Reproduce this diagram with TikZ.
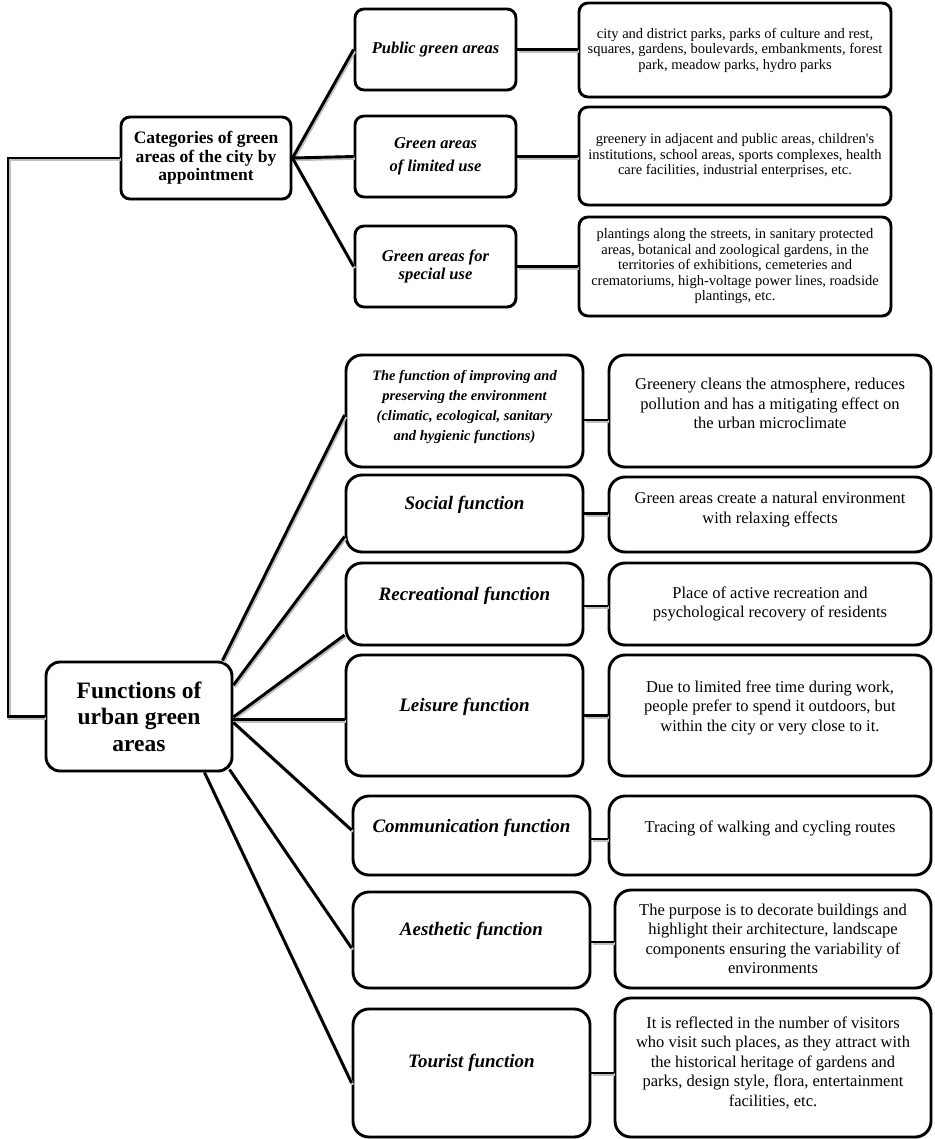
\documentclass[tikz,border=0pt]{standalone}
\usepackage{fontspec}
\setmainfont{Liberation Serif}
\usetikzlibrary{shadows}
\begin{document}
\begin{tikzpicture}[x=1pt,y=-1pt,
  bx/.style={draw, line width=2.9pt, rounded corners=9pt, fill=white, inner sep=0pt,
    drop shadow={shadow xshift=1.2pt, shadow yshift=-1.6pt, fill=black!30}},
  bbx/.style={bx, rounded corners=16pt},
  ln/.style={line width=2.9pt,
    preaction={draw=black!25, line width=2.9pt, transform canvas={shift={(1.2pt,-1.8pt)}}}},
  tcat/.style={font=\fontsize{17.5}{18.5}\selectfont\bfseries, align=center, inner sep=0pt},
  tfunc/.style={font=\fontsize{23.5}{26.5}\selectfont\bfseries, align=center, inner sep=0pt},
  tsub/.style={font=\fontsize{16.5}{19}\selectfont\bfseries\itshape, align=center, inner sep=0pt},
  tsm/.style={font=\fontsize{14.5}{15.5}\selectfont, align=center, inner sep=0pt},
  timpr/.style={font=\fontsize{14.5}{20}\selectfont\bfseries\itshape, align=center, inner sep=0pt},
  tlab/.style={font=\fontsize{19}{22}\selectfont\bfseries\itshape, align=center, inner sep=0pt},
  tdesc/.style={font=\fontsize{16.5}{19.5}\selectfont, align=center, inner sep=0pt}]
\useasboundingbox (0,0) rectangle (934,1139);

% connectors are drawn after the boxes; shadows of lines go under boxes
% top section
\node[bx, minimum width=170pt, minimum height=82pt, tcat] (cat) at (206,158) {Categories of green\\areas of the city by\\appointment};
\node[bx, minimum width=161pt, minimum height=81pt, tsub] (pub) at (435.5,49.5) {Public green areas};
\node[bx, minimum width=161pt, minimum height=81pt, tsub, font=\fontsize{16.5}{23}\selectfont\bfseries\itshape] (lim) at (435.5,156.5) {Green areas\\of limited use};
\node[bx, minimum width=161pt, minimum height=81pt, tsub, font=\fontsize{16.5}{18}\selectfont\bfseries\itshape] (spe) at (435.5,266.5) {Green areas for\\special use};
\node[bx, minimum width=312pt, minimum height=94pt, tsm] (r1) at (735,50) {city and district parks, parks of culture and rest,\\squares, gardens, boulevards, embankments, forest\\park, meadow parks, hydro parks};
\node[bx, minimum width=312pt, minimum height=98pt, tsm] (r2) at (735,156) {greenery in adjacent and public areas, children\textquotesingle s\\institutions, school areas, sports complexes, health\\care facilities, industrial enterprises, etc.};
\node[bx, minimum width=312pt, minimum height=99pt, tsm] (r3) at (735,266.5) {plantings along the streets, in sanitary protected\\areas, botanical and zoological gardens, in the\\territories of exhibitions, cemeteries and\\crematoriums, high-voltage power lines, roadside\\plantings, etc.};

% bottom section
\node[bbx, rounded corners=14pt, minimum width=186pt, minimum height=109pt, tfunc] (func) at (139,716.5) {Functions of\\urban green\\areas};

\node[bbx, minimum width=237pt, minimum height=112pt] (impr) at (464.5,411) {};
\node[timpr] (imprT) at ([yshift=4pt]impr.center) {The function of improving and\\preserving the environment\\(climatic, ecological, sanitary\\and hygienic functions)};
\node[bbx, minimum width=322pt, minimum height=112pt] (imprR) at (770,411) {};
\node[tdesc] (imprRT) at ([yshift=7.5pt]imprR.center) {Greenery cleans the atmosphere, reduces\\pollution and has a mitigating effect on\\the urban microclimate};

\node[bbx, minimum width=237pt, minimum height=77pt] (soc) at (464.5,513.5) {};
\node[tlab] (socT) at ([yshift=8.5pt]soc.center) {Social function};
\node[bbx, minimum width=322pt, minimum height=75pt] (socR) at (770,514.5) {};
\node[tdesc] (socRT) at ([yshift=5pt]socR.center) {Green areas create a natural environment\\with relaxing effects};

\node[bbx, minimum width=237pt, minimum height=82pt] (rec) at (464.5,604) {};
\node[tlab] (recT) at ([yshift=8pt]rec.center) {Recreational function};
\node[bbx, minimum width=322pt, minimum height=82pt, tdesc] (recR) at (770,604) {Place of active recreation and\\psychological recovery of residents};

\node[bbx, minimum width=237pt, minimum height=121pt] (lei) at (464.5,715.5) {};
\node[tlab] (leiT) at ([yshift=9pt]lei.center) {Leisure function};
\node[bbx, minimum width=322pt, minimum height=121pt] (leiR) at (770,715.5) {};
\node[tdesc] (leiRT) at ([yshift=8pt]leiR.center) {Due to limited free time during work,\\people prefer to spend it outdoors, but\\within the city or very close to it.};

\node[bbx, minimum width=237pt, minimum height=79pt] (com) at (471.5,835.5) {};
\node[tlab] (comT) at ([yshift=8pt]com.center) {Communication function};
\node[bbx, minimum width=322pt, minimum height=79pt] (comR) at (770,835.5) {};
\node[tdesc] (comRT) at ([yshift=7pt]comR.center) {Tracing of walking and cycling routes};

\node[bbx, minimum width=237pt, minimum height=96pt] (aes) at (471.5,940) {};
\node[tlab] (aesT) at ([yshift=9pt]aes.center) {Aesthetic function};
\node[bbx, minimum width=316pt, minimum height=98pt, tdesc] (aesR) at (773,939) {The purpose is to decorate buildings and\\highlight their architecture, landscape\\components ensuring the variability of\\environments};

\node[bbx, minimum width=237pt, minimum height=128pt] (tou) at (471.5,1073) {};
\node[tlab] (touT) at ([yshift=10pt]tou.center) {Tourist function};
\node[bbx, minimum width=316pt, minimum height=139pt] (touR) at (773,1067.5) {};
\node[tdesc] (touRT) at ([yshift=5pt]touR.center) {It is reflected in the number of visitors\\who visit such places, as they attract with\\the historical heritage of gardens and\\parks, design style, flora, entertainment\\facilities, etc.};

% connectors top
\draw[ln] (cat.east) -- (pub.west);
\draw[ln] (cat.east) -- (lim.west);
\draw[ln] (cat.east) -- (spe.west);
\draw[ln] (pub.east) -- (pub.east -| r1.west);
\draw[ln] (lim.east) -- (lim.east -| r2.west);
\draw[ln] (spe.east) -- (spe.east -| r3.west);

% left trunk
\coordinate (lx) at (8,0);
\draw[ln] (func.west) -- (func.west -| lx) -- (lx |- cat.west) -- (cat.west);

% fan from functions
\draw[ln] ([xshift=-11pt]func.north east) -- ([yshift=-4pt]impr.west);
\draw[ln] ([yshift=31.5pt]func.east) -- ([yshift=-23pt]soc.west);
\draw[ln] ([yshift=-0.5pt]func.east) -- ([yshift=-31pt]rec.west);
\draw[ln] ([yshift=-3pt]func.east) -- ([yshift=-3pt]func.east -| lei.west);
\draw[ln] ([yshift=-6pt]func.east) -- ([yshift=5.5pt]com.west);
\draw[ln] ([xshift=-4pt,yshift=3pt]func.south east) -- ([yshift=-8pt]aes.west);
\draw[ln] ([xshift=-29pt]func.south east) -- ([yshift=-10pt]tou.west);

% connectors right
\draw[ln] ([yshift=-9pt]impr.east) -- ([yshift=-9pt]impr.east -| imprR.west);
\draw[ln] (soc.east) -- (soc.east -| socR.west);
\draw[ln] ([yshift=-2pt]rec.east) -- ([yshift=-2pt]rec.east -| recR.west);
\draw[ln] (lei.east) -- (lei.east -| leiR.west);
\draw[ln] ([yshift=-3.5pt]com.east) -- ([yshift=-3.5pt]com.east -| comR.west);
\draw[ln] ([yshift=-2pt]aes.east) -- ([yshift=-2pt]aes.east -| aesR.west);
\draw[ln] (tou.east) -- (tou.east -| touR.west);
\end{tikzpicture}
\end{document}
